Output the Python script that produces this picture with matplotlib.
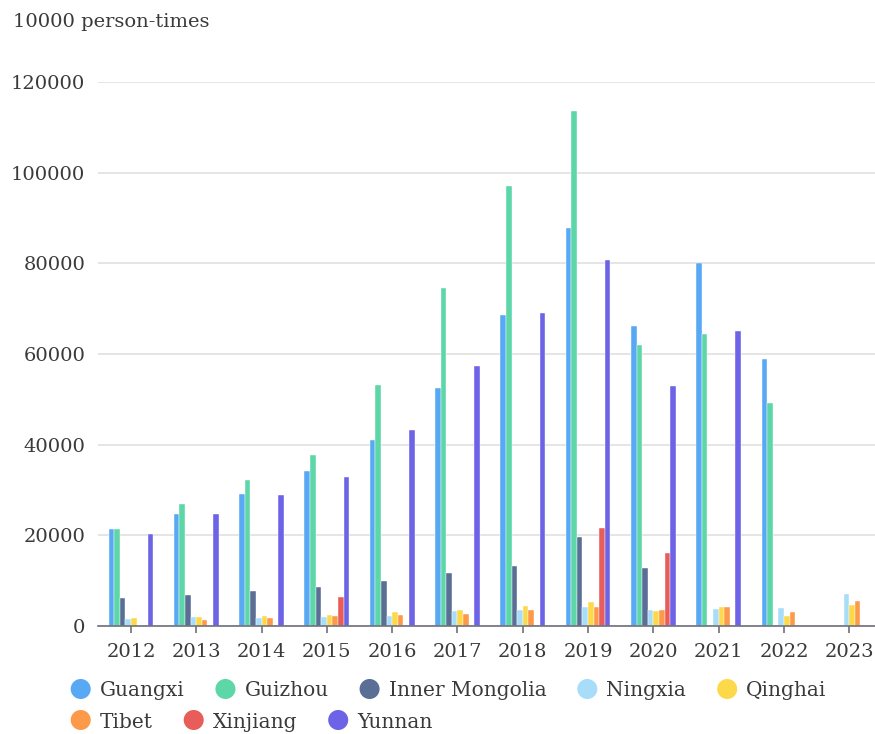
import numpy as np
import matplotlib.pyplot as plt

plt.rcParams['font.family'] = 'serif'
plt.rcParams['font.serif'] = ['DejaVu Serif']

### 数据 (单位: 万人次)
years = ['2012', '2013', '2014', '2015', '2016', '2017', '2018', '2019', '2020', '2021', '2022', '2023']
nan = np.nan
guangxi = [21300, 24800, 29100, 34200, 41000, 52400, 68500, 87800, 66200, 80000, 59000, nan]
guizhou = [21500, 26900, 32300, 37700, 53200, 74600, 97000, 113700, 61900, 64500, 49300, nan]
inner_mongolia = [6200, 6900, 7700, 8600, 9900, 11800, 13200, 19600, 12700, nan, nan, nan]
ningxia = [1500, 2000, 1800, 1900, 2200, 3200, 3500, 4100, 3500, 3800, 4000, 7100]
qinghai = [1800, 1900, 2100, 2400, 3000, 3600, 4400, 5200, 3400, 4100, 2200, 4600]
tibet = [nan, 1400, 1700, 2100, 2400, 2700, 3500, 4100, 3600, 4300, 3100, 5600]
xinjiang = [nan, nan, nan, 6400, nan, nan, nan, 21600, 16000, nan, nan, nan]
yunnan = [20200, 24600, 28800, 32900, 43200, 57400, 69000, 80800, 53000, 65100, nan, nan]

names = ['Guangxi', 'Guizhou', 'Inner Mongolia', 'Ningxia', 'Qinghai', 'Tibet', 'Xinjiang', 'Yunnan']
series = [guangxi, guizhou, inner_mongolia, ningxia, qinghai, tibet, xinjiang, yunnan]
colors = ['#58a9f4', '#5dd6a8', '#5a6e96', '#a8ddf9', '#fdd94a', '#fd9a4a', '#e85c5a', '#6c63e6']

text_color = '#3a3a3a'
axis_color = '#6e7079'
W, H = 875, 734

fig = plt.figure(figsize=(W / 100, H / 100), dpi=100)
ax = fig.add_axes([98.3 / W, 108 / H, 776.7 / W, 544 / H])

### 柱状图
x = np.arange(len(years))
w = 0.0857
for i, (vals, c) in enumerate(zip(series, colors)):
    ax.bar(x + (i - 3.5) * w, vals, width=w, color=c, edgecolor='white', linewidth=0.3, zorder=3)

ax.set_xlim(-0.5, -0.5 + 776.7 / 65.3)
ax.set_ylim(0, 120000)
ax.set_xticks(x)
ax.set_xticklabels(years)
ax.set_yticks(np.arange(0, 120001, 20000))
ax.set_yticklabels([str(v) for v in range(0, 120001, 20000)])

ax.grid(axis='y', color='#e0e0e0', linewidth=1.2, zorder=0)
for s in ['top', 'right', 'left']:
    ax.spines[s].set_visible(False)
ax.spines['bottom'].set_color(axis_color)
ax.spines['bottom'].set_linewidth(1.2)
ax.spines['bottom'].set_zorder(4)

ax.tick_params(axis='x', length=5, width=1.2, color=axis_color, pad=7, labelsize=14, labelcolor=text_color)
ax.tick_params(axis='y', length=0, pad=9.4, labelsize=14, labelcolor=text_color)

fig.text(13 / W, 1 - 27 / H, '10000 person-times', fontsize=14, color=text_color, va='baseline', ha='left')

### 图例: 两行, 按文字宽度依次排布 (像素坐标的覆盖层)
ov = fig.add_axes([0, 0, 1, 1], facecolor='none')
ov.set_xlim(0, W)
ov.set_ylim(H, 0)
ov.axis('off')
renderer = fig.canvas.get_renderer()
rows = [(range(0, 5), 689), (range(5, 8), 720)]
for idx, yc in rows:
    xpos = 70.7
    for k in idx:
        ov.scatter([xpos + 10], [yc], s=20 ** 2 * 0.52, color=colors[k], edgecolors='none')
        t = ov.text(xpos + 29, yc, names[k], fontsize=14.5, color=text_color,
                    va='center_baseline', ha='left')
        tw = t.get_window_extent(renderer).width
        xpos = xpos + 29 + tw + 31

fig.savefig('out.png', dpi=100)
